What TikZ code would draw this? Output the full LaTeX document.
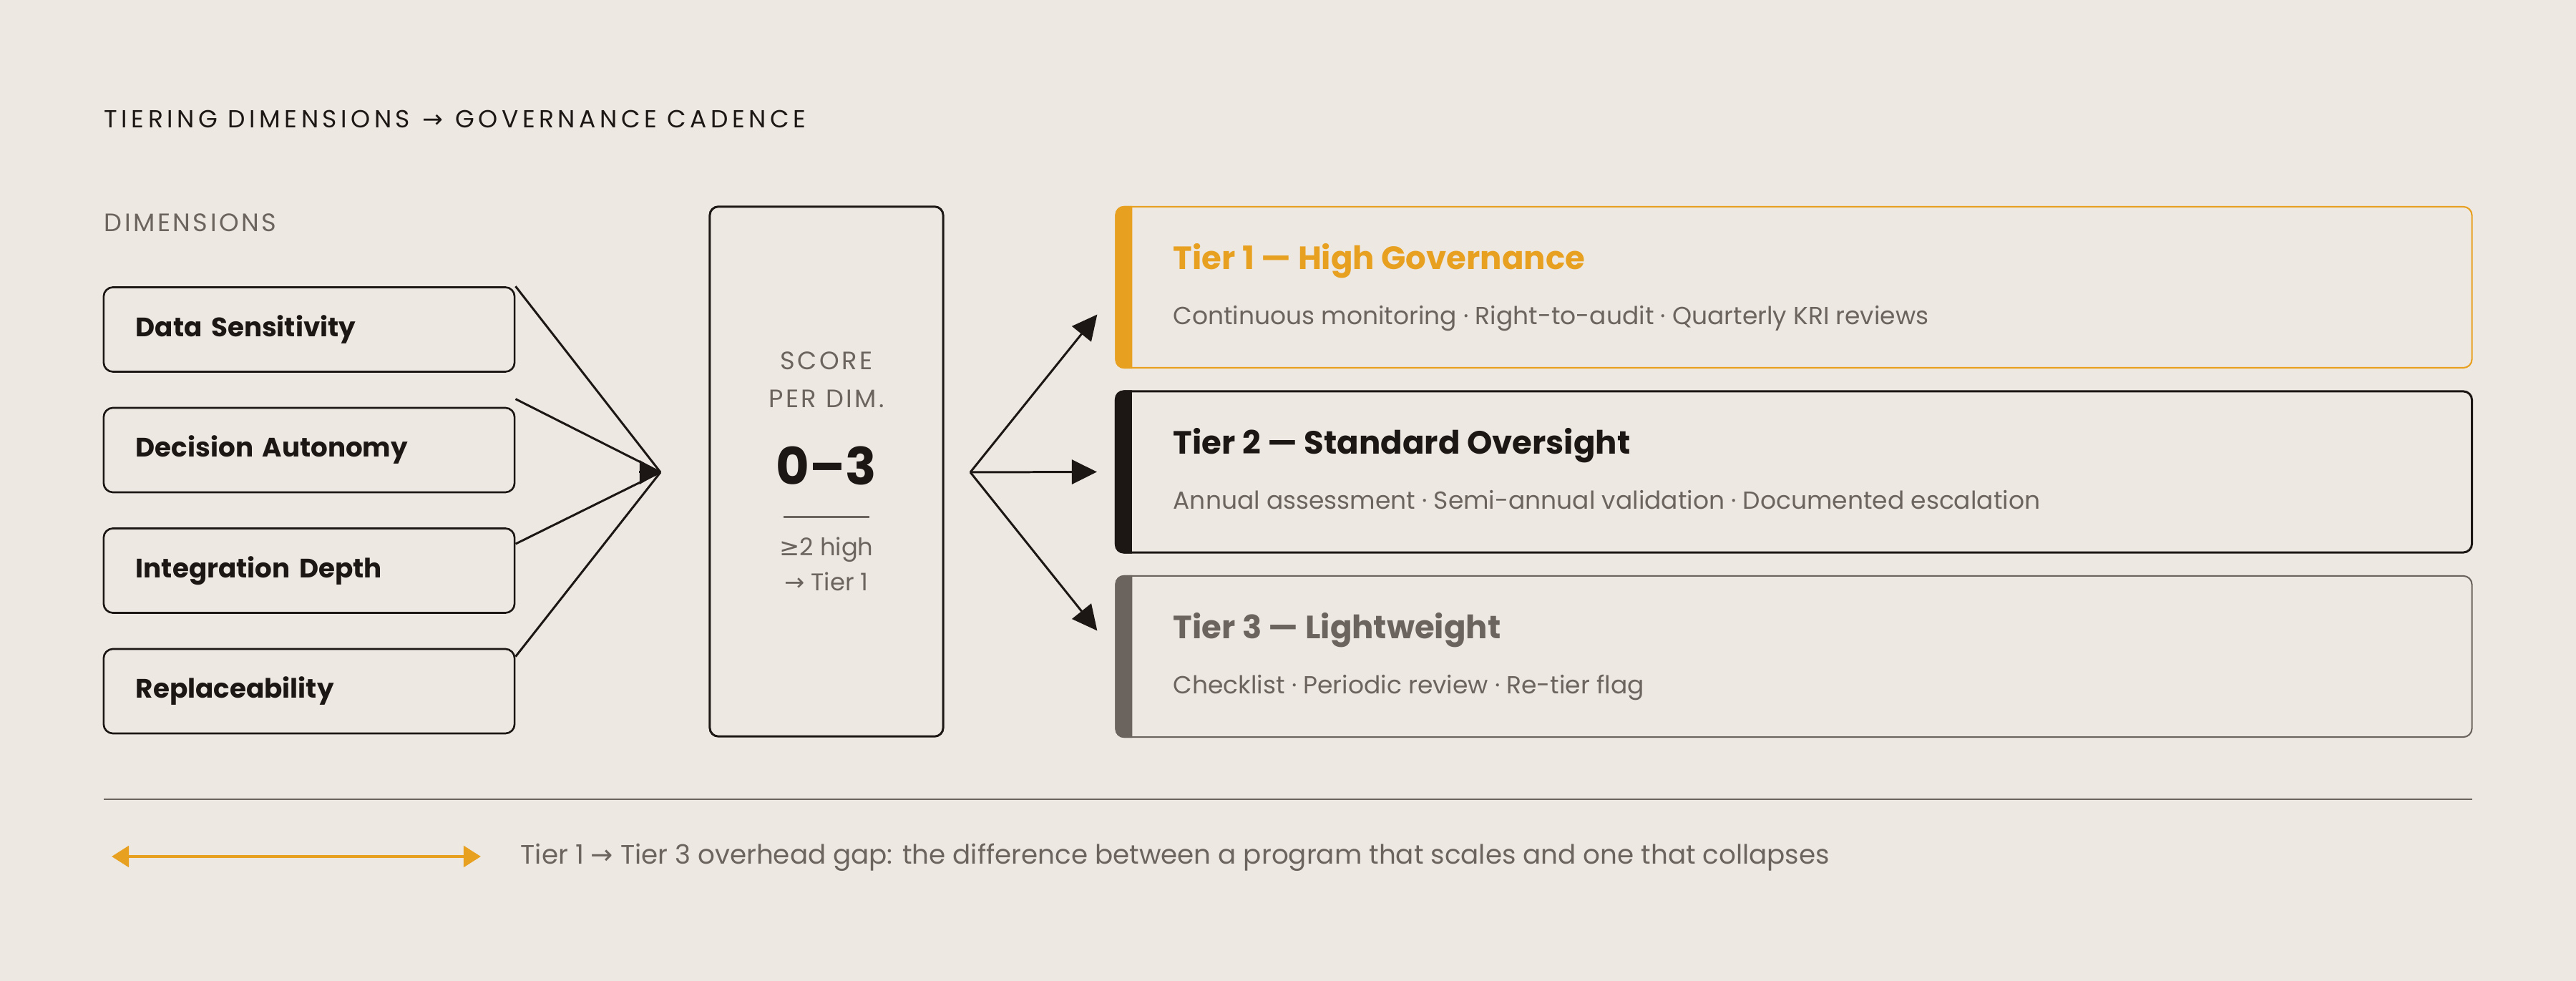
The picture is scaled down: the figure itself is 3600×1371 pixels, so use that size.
\documentclass[tikz,border=0pt]{standalone}
\usepackage{fontspec}
\setmainfont{Poppins}
\newfontfamily\symfont{DejaVu Sans}
\newfontfamily\titlefont[LetterSpace=16]{Poppins}
\newfontfamily\capsfont[LetterSpace=10]{Poppins}
\usetikzlibrary{arrows.meta}
\definecolor{paper}{HTML}{EDE8E1}
\definecolor{ink}{HTML}{1C1714}
\definecolor{amber}{HTML}{E8A020}
\definecolor{stone}{HTML}{6B645E}
\newcommand{\tto}{{\symfont\char"2192}}
\newcommand{\atleast}{{\symfont\char"2265}}
\tikzset{
  txt/.style={inner sep=0pt},
  dimbox/.style={draw=ink, line width=0.75pt, rounded corners=0.13cm,
    minimum height=1.18cm, text width=4.84cm, inner xsep=0.45cm, align=left,
    text=ink, font=\fontsize{10.6pt}{12pt}\selectfont\bfseries},
  tierbox/.style={draw=#1, rounded corners=0.12cm, minimum width=18.94cm,
    minimum height=2.25cm, inner sep=0pt},
  tierhead/.style={txt, anchor=base west, text=#1,
    font=\fontsize{12.8pt}{14pt}\selectfont\bfseries},
  tiersub/.style={txt, anchor=base west, text=stone,
    font=\fontsize{9.8pt}{12pt}\selectfont},
  link/.style={draw=ink, line width=0.85pt},
}
\begin{document}
\begin{tikzpicture}[x=0.01cm, y=-0.01cm]
    \fill[paper] (0,0) rectangle (3600,1371);
    \useasboundingbox (0,0) rectangle (3600,1371);
    % headings
    \node[txt, anchor=base west, text=ink, font=\titlefont\fontsize{9.8pt}{11pt}\selectfont] (title) at (145,179) {TIERING DIMENSIONS\hspace{0.5em}\tto\hspace{0.5em}GOVERNANCE CADENCE};
    \node[txt, anchor=base west, text=stone, font=\capsfont\fontsize{10pt}{11pt}\selectfont] (dimhead) at (145,324) {DIMENSIONS};
    % dimensions
    \node[dimbox] (d1) at (432,460.5) {Data Sensitivity};
    \node[dimbox] (d2) at (432,629) {Decision Autonomy};
    \node[dimbox] (d3) at (432,797.5) {Integration Depth};
    \node[dimbox] (d4) at (432,966) {Replaceability};
    % score
    \node[draw=ink, line width=0.85pt, rounded corners=0.12cm, minimum width=3.26cm, minimum height=7.4cm] (score) at (1155,659) {};
    \node[txt, anchor=base, text=stone, font=\capsfont\fontsize{10pt}{12pt}\selectfont] (sc1) at (1155,517) {SCORE};
    \node[txt, anchor=base, text=stone, font=\capsfont\fontsize{10pt}{12pt}\selectfont] (sc2) at (1155,570) {PER DIM.};
    \node[txt, anchor=base, text=ink, font=\fontsize{20.4pt}{24pt}\selectfont\bfseries] (range) at (1155,678) {0–3};
    \draw[stone, line width=0.85pt] (1095,723) -- (1215,723);
    \node[txt, anchor=base, text=stone, font=\fontsize{9.6pt}{12pt}\selectfont] (rule1) at (1155,777) {\atleast2 high};
    \node[txt, anchor=base, text=stone, font=\fontsize{9.6pt}{12pt}\selectfont] (rule2) at (1155,826) {\tto\ Tier 1};
    % tiers
    \node[tierbox=amber, line width=0.6pt] (t1) at (2507,401.5) {};
    \node[tierbox=ink, line width=0.85pt] (t2) at (2507,659.5) {};
    \node[tierbox=stone, line width=0.6pt] (t3) at (2507,917.5) {};
    \foreach \t/\c in {t1/amber, t2/ink, t3/stone} {
        \begin{scope}
            \clip (\t.north west) rectangle ([xshift=0.24cm]\t.south west);
            \fill[\c, rounded corners=0.12cm] (\t.north west) rectangle (\t.south east);
        \end{scope}
    }
    \node[tierhead=amber] (t1h) at (1639,377) {Tier 1 — High Governance};
    \node[tiersub] (t1s) at (1639,454) {Continuous monitoring · Right-to-audit · Quarterly KRI reviews};
    \node[tierhead=ink] (t2h) at (1639,635) {Tier 2 — Standard Oversight};
    \node[tiersub] (t2s) at (1639,712) {Annual assessment · Semi-annual validation · Documented escalation};
    \node[tierhead=stone] (t3h) at (1639,893) {Tier 3 — Lightweight};
    \node[tiersub] (t3s) at (1639,970) {Checklist · Periodic review · Re-tier flag};
    % connectors
    \coordinate (join) at (923,660);
    \coordinate (fork) at (1356,660);
    \draw[link] (d1.north east) -- (join);
    \draw[link] ([yshift=0.11cm]d2.north east) -- (join);
    \draw[link] ([yshift=-0.23cm]d3.north east) -- (join);
    \draw[link] ([yshift=-0.12cm]d4.north east) -- (join);
    \draw[link, -{Triangle[length=0.29cm, width=0.33cm]}] ([xshift=-0.3cm]join) -- (join);
    \draw[link, -{Triangle[length=0.35cm, width=0.34cm]}] (fork) -- ([xshift=-0.25cm, yshift=-0.38cm]t1.west);
    \draw[link, -{Triangle[length=0.35cm, width=0.34cm]}] (fork) -- ([xshift=-0.25cm]t2.west);
    \draw[link, -{Triangle[length=0.35cm, width=0.34cm]}] (fork) -- ([xshift=-0.25cm, yshift=0.36cm]t3.west);
    % footer
    \draw[stone, line width=0.85pt] (145,1117) -- (3455,1117);
    \coordinate (gapl) at (156,1197);
    \coordinate (gapr) at (672,1197);
    \draw[amber, line width=1.4pt, {Triangle[length=0.24cm, width=0.29cm]}-{Triangle[length=0.24cm, width=0.29cm]}] (gapl) -- (gapr);
    \node[txt, anchor=base west, text=stone, font=\fontsize{10.6pt}{12pt}\selectfont] (gapnote) at (727,1208) {Tier 1 \tto\ Tier 3 overhead gap: the difference between a program that scales and one that collapses};
\end{tikzpicture}
\end{document}
